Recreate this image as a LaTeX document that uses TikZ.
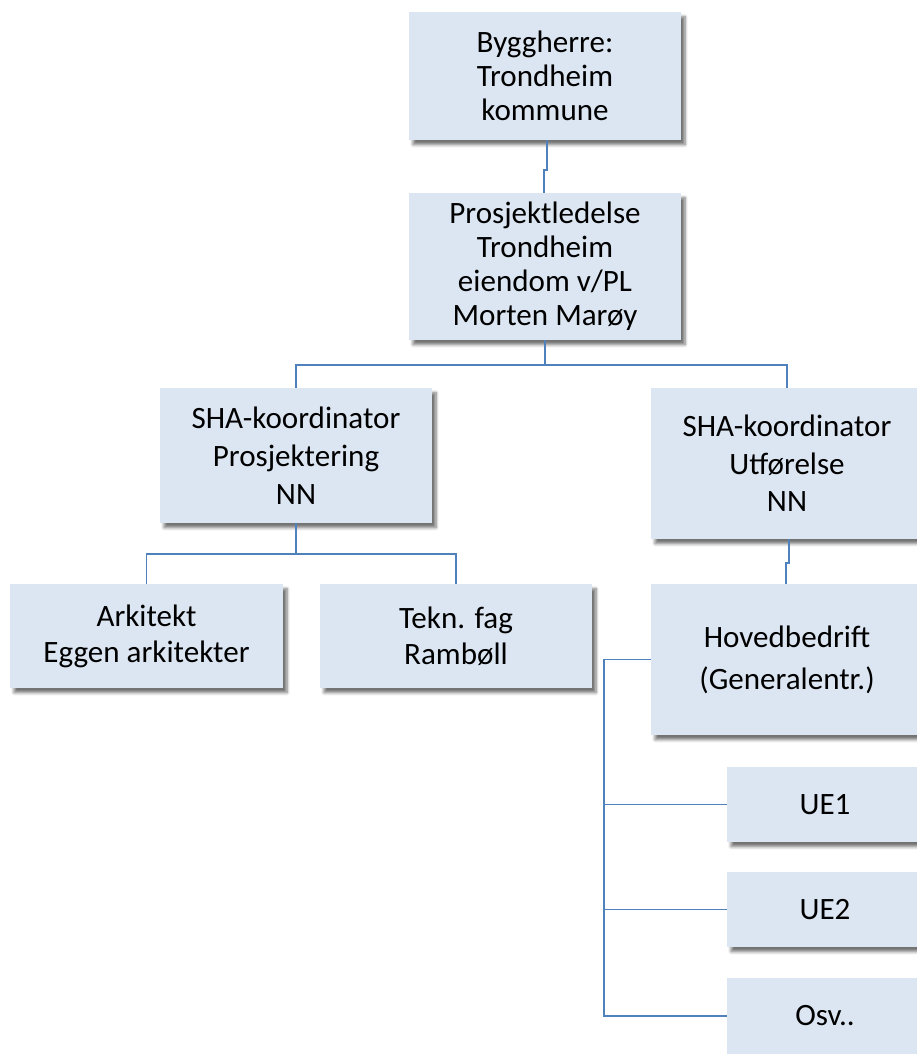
\documentclass[tikz,border=0pt]{standalone}
\usepackage{fontspec}
\setmainfont{Carlito}
\usetikzlibrary{calc,shadows.blur}
\definecolor{boxfill}{HTML}{DCE6F2}
\definecolor{linkblue}{HTML}{4F81BD}
\tikzset{
  orgbox/.style={fill=boxfill, draw=none, inner sep=0pt, align=center, text=black,
    font=\fontsize{23.3}{25.5}\selectfont,
    blur shadow={shadow xshift=3pt, shadow yshift=-3.5pt, shadow blur steps=6, shadow blur radius=2.2pt, shadow opacity=55}},
  link/.style={draw=linkblue, line width=1.4pt}
}
\newcommand\orgnode[7][]{%
  \node[orgbox, #1, minimum width={(#5-#3)*0.75pt}, minimum height={(#6-#4)*0.75pt}]
    (#2) at ({(#3+#5)/2},{(#4+#6)/2}) {#7};}
\begin{document}
\begin{tikzpicture}[x=0.75pt, y=-0.75pt]
\useasboundingbox (0,0) rectangle (917,1054);
\clip (0,0) rectangle (917,1054);
\orgnode{byg}{409}{12}{681}{140}{Byggherre:\\Trondheim\\kommune}
\orgnode{pro}{409}{193}{681}{340}{Prosjektledelse\\Trondheim\\eiendom v/PL\\Morten Marøy}
\orgnode[font=\fontsize{23.3}{28.5}\selectfont]{shaL}{160}{388}{432}{523}{SHA-koordinator\\Prosjektering\\NN}
\orgnode[font=\fontsize{23.3}{28}\selectfont]{shaR}{651}{388}{923}{539}{SHA-koordinator\\Utførelse\\NN}
\orgnode[font=\fontsize{23.3}{27}\selectfont]{ark}{10}{584}{283}{688}{Arkitekt\\Eggen arkitekter}
\orgnode[font=\fontsize{23.3}{27}\selectfont]{tek}{320}{584}{592}{688}{Tekn. fag\\Rambøll}
\orgnode[font=\fontsize{23.3}{31.5}\selectfont]{hov}{651}{584}{923}{735}{Hovedbedrift\\(Generalentr.)}
\orgnode{ue1}{727}{767}{923}{842}{UE1}
\orgnode{ue2}{727}{872}{923}{947}{UE2}
\orgnode{osv}{727}{978}{923}{1054}{Osv..}
% connectors
\coordinate (j0) at ($(byg.south)+(0,30)$);
\draw[link] ([xshift=1.5pt]byg.south) -- ([xshift=1.5pt]j0) -- ([xshift=-0.75pt]j0) -- ([xshift=-0.75pt]pro.north);
\coordinate (j1) at ($(pro.south)+(0,25)$);
\draw[link] (pro.south) -- (j1);
\draw[link] (shaL.north) |- (j1) -| (shaR.north);
\coordinate (j2) at ($(shaL.south)+(0,31)$);
\draw[link] (shaL.south) -- (j2);
\draw[link] (ark.north) |- (j2) -| (tek.north);
\coordinate (j3) at ($(shaR.south)+(0,24)$);
\draw[link] ([xshift=1.5pt]shaR.south) -- ([xshift=1.5pt]j3) -- ([xshift=-0.75pt]j3) -- ([xshift=-0.75pt]hov.north);
\coordinate (v) at ($(hov.west)+(-47,0)$);
\draw[link] (hov.west) -- (v) |- (osv.west);
\draw[link] (v |- ue1.west) -- (ue1.west);
\draw[link] (v |- ue2.west) -- (ue2.west);
\end{tikzpicture}
\end{document}
